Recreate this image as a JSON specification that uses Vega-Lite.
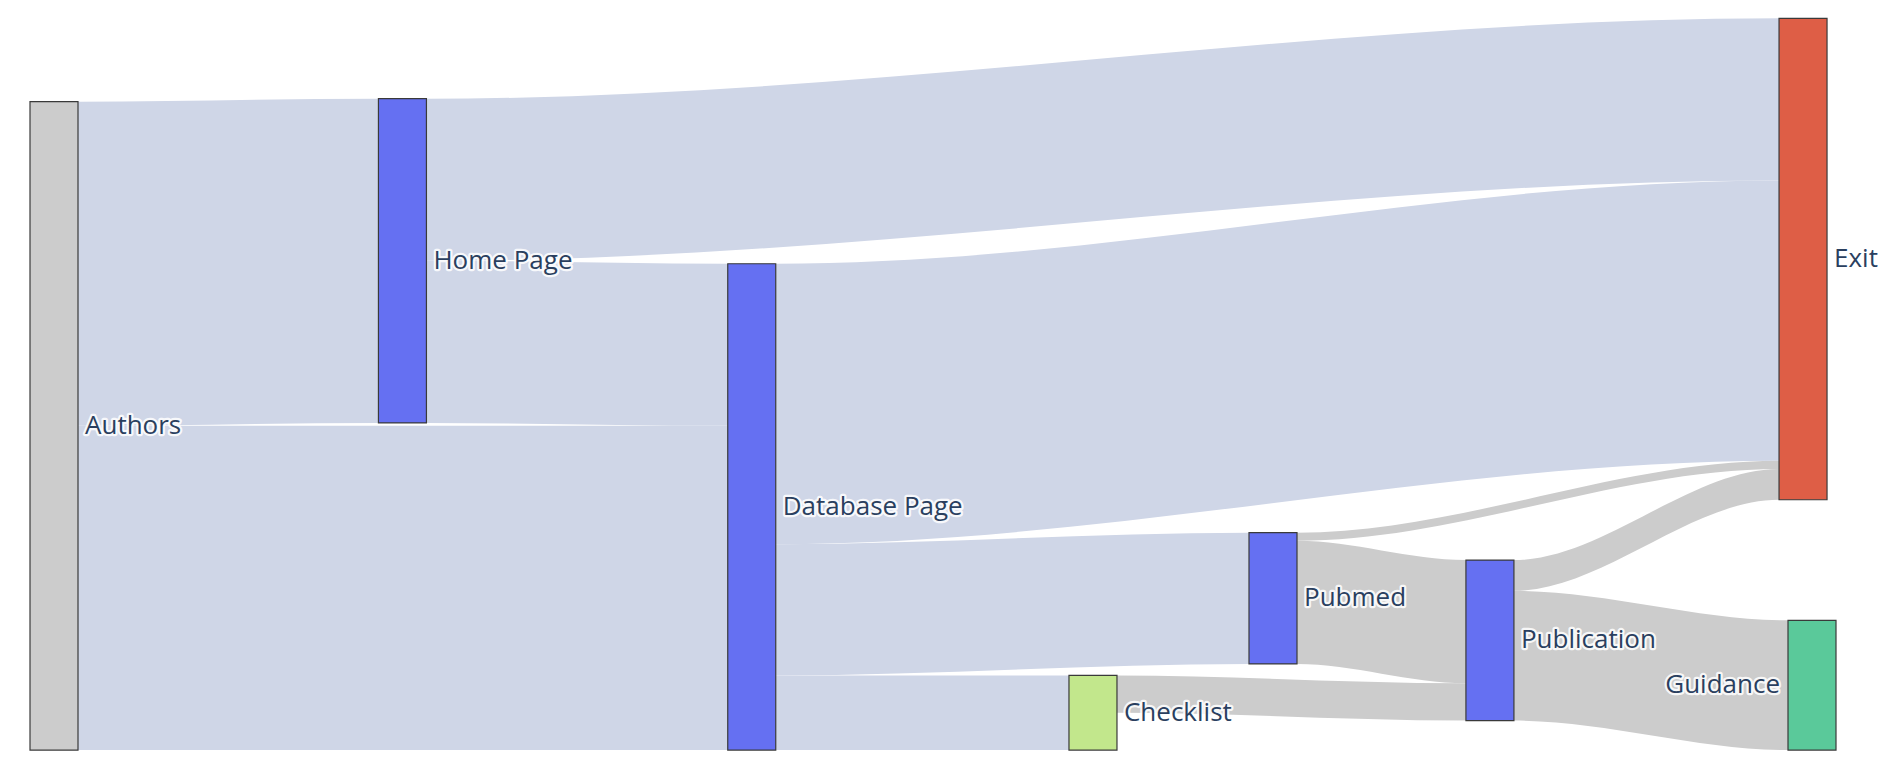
{
  "$schema": "https://vega.github.io/schema/vega-lite/v6.json",
  "width": 1894,
  "height": 772,
  "padding": 0,
  "autosize": {"type": "fit", "contains": "padding"},
  "background": "white",
  "config": {"view": {"stroke": null}},
  "datasets": {
    "nodes": [
      {"node": "Authors", "pos": 0, "top": 62.7, "value": 400},
      {"node": "Home Page", "pos": 0.1982, "top": 60.9, "value": 200},
      {"node": "Database Page", "pos": 0.3969, "top": 162.7, "value": 300},
      {"node": "Checklist", "pos": 0.591, "top": 416.7, "value": 46},
      {"node": "Pubmed", "pos": 0.6934, "top": 328.6, "value": 81},
      {"node": "Publication", "pos": 0.8168, "top": 345.5, "value": 99},
      {"node": "Exit", "pos": 0.9949, "top": 11.3, "value": 297},
      {"node": "Guidance", "pos": 1.0, "top": 382.7, "value": 80}
    ],
    "links": [
      {"source": "Authors", "target": "Home Page", "value": 200},
      {"source": "Authors", "target": "Database Page", "value": 200},
      {"source": "Home Page", "target": "Exit", "value": 100},
      {"source": "Home Page", "target": "Database Page", "value": 100},
      {"source": "Database Page", "target": "Exit", "value": 173},
      {"source": "Database Page", "target": "Pubmed", "value": 81},
      {"source": "Database Page", "target": "Checklist", "value": 46},
      {"source": "Pubmed", "target": "Exit", "value": 5},
      {"source": "Pubmed", "target": "Publication", "value": 76},
      {"source": "Checklist", "target": "Publication", "value": 23},
      {"source": "Publication", "target": "Exit", "value": 19},
      {"source": "Publication", "target": "Guidance", "value": 80}
    ]
  },
  "resolve": {"scale": {"color": "independent"}},
  "layer": [
    {
      "data": {"name": "links"},
      "transform": [
        {"lookup": "source", "from": {"data": {"name": "nodes"}, "key": "node", "fields": ["pos", "top"]}, "as": ["sx", "stop"]},
        {"lookup": "target", "from": {"data": {"name": "nodes"}, "key": "node", "fields": ["pos", "top"]}, "as": ["tx", "ttop"]},
        {"window": [{"op": "sum", "field": "value", "as": "outCum"}], "groupby": ["source"], "sort": [{"field": "ttop", "order": "ascending"}], "frame": [null, 0]},
        {"window": [{"op": "sum", "field": "value", "as": "inCum"}], "groupby": ["target"], "sort": [{"field": "stop", "order": "ascending"}], "frame": [null, 0]},
        {"calculate": "datum.stop + datum.outCum - datum.value", "as": "y0"},
        {"calculate": "datum.ttop + datum.inCum - datum.value", "as": "y1"},
        {"calculate": "[0, 1, 2, 3]", "as": "k"},
        {"flatten": ["k"]},
        {"calculate": "datum.k == 0 ? datum.sx : (datum.k == 1 ? datum.sx + 0.013652 : (datum.k == 2 ? datum.tx - 0.013652 : datum.tx))", "as": "px"},
        {"calculate": "datum.k < 2 ? datum.y0 : datum.y1", "as": "ya"},
        {"calculate": "datum.ya + datum.value", "as": "yb"}
      ],
      "mark": {"type": "area", "interpolate": "monotone", "opacity": 1},
      "encoding": {
        "x": {"field": "px", "type": "quantitative", "scale": {"domain": [-0.030717, 1.046644], "nice": false, "zero": false}, "axis": null},
        "y": {"field": "ya", "type": "quantitative", "stack": null, "scale": {"domain": [0, 476.25], "reverse": true, "nice": false, "zero": false}, "axis": null},
        "y2": {"field": "yb"},
        "detail": [{"field": "source"}, {"field": "target"}],
        "color": {
          "field": "source", "type": "nominal", "legend": null,
          "scale": {
            "domain": ["Authors", "Home Page", "Database Page", "Pubmed", "Checklist", "Publication"],
            "range": ["#cfd6e7", "#cfd6e7", "#cfd6e7", "#cccccc", "#cccccc", "#cccccc"]
          }
        }
      }
    },
    {
      "data": {"name": "nodes"},
      "transform": [
        {"calculate": "datum.pos - 0.013652", "as": "xa"},
        {"calculate": "datum.pos + 0.013652", "as": "xb"},
        {"calculate": "datum.top + datum.value", "as": "bottom"}
      ],
      "mark": {"type": "rect", "stroke": "#3a3a3a", "strokeWidth": 1.2},
      "encoding": {
        "x": {"field": "xa", "type": "quantitative", "scale": {"domain": [-0.030717, 1.046644], "nice": false, "zero": false}, "axis": null},
        "x2": {"field": "xb"},
        "y": {"field": "top", "type": "quantitative", "scale": {"domain": [0, 476.25], "reverse": true, "nice": false, "zero": false}, "axis": null},
        "y2": {"field": "bottom"},
        "color": {
          "field": "node", "type": "nominal", "legend": null,
          "scale": {
            "domain": ["Authors", "Home Page", "Database Page", "Checklist", "Pubmed", "Publication", "Exit", "Guidance"],
            "range": ["#cccccc", "#6570f2", "#6570f2", "#c2e78c", "#6570f2", "#6570f2", "#de5e46", "#5ac99a"]
          }
        }
      }
    },
    {
      "data": {"name": "nodes"},
      "transform": [
        {"filter": "datum.node !== 'Guidance'"},
        {"calculate": "datum.top + datum.value / 2", "as": "mid"}
      ],
      "mark": {"type": "text", "align": "left", "baseline": "middle", "dx": 31, "font": "Open Sans", "fontSize": 26, "fill": "white", "stroke": "white", "strokeWidth": 4.5, "strokeOpacity": 0.85, "strokeJoin": "round"},
      "encoding": {
        "x": {"field": "pos", "type": "quantitative", "scale": {"domain": [-0.030717, 1.046644], "nice": false, "zero": false}, "axis": null},
        "y": {"field": "mid", "type": "quantitative", "scale": {"domain": [0, 476.25], "reverse": true, "nice": false, "zero": false}, "axis": null},
        "text": {"field": "node"}
      }
    },
    {
      "data": {"name": "nodes"},
      "transform": [
        {"filter": "datum.node !== 'Guidance'"},
        {"calculate": "datum.top + datum.value / 2", "as": "mid"}
      ],
      "mark": {"type": "text", "align": "left", "baseline": "middle", "dx": 31, "font": "Open Sans", "fontSize": 26, "fill": "#2a3f5f"},
      "encoding": {
        "x": {"field": "pos", "type": "quantitative", "scale": {"domain": [-0.030717, 1.046644], "nice": false, "zero": false}, "axis": null},
        "y": {"field": "mid", "type": "quantitative", "scale": {"domain": [0, 476.25], "reverse": true, "nice": false, "zero": false}, "axis": null},
        "text": {"field": "node"}
      }
    },
    {
      "data": {"name": "nodes"},
      "transform": [
        {"filter": "datum.node === 'Guidance'"},
        {"calculate": "datum.top + datum.value / 2", "as": "mid"}
      ],
      "mark": {"type": "text", "align": "right", "baseline": "middle", "dx": -32, "font": "Open Sans", "fontSize": 26, "fill": "white", "stroke": "white", "strokeWidth": 4.5, "strokeOpacity": 0.85, "strokeJoin": "round"},
      "encoding": {
        "x": {"field": "pos", "type": "quantitative", "scale": {"domain": [-0.030717, 1.046644], "nice": false, "zero": false}, "axis": null},
        "y": {"field": "mid", "type": "quantitative", "scale": {"domain": [0, 476.25], "reverse": true, "nice": false, "zero": false}, "axis": null},
        "text": {"field": "node"}
      }
    },
    {
      "data": {"name": "nodes"},
      "transform": [
        {"filter": "datum.node === 'Guidance'"},
        {"calculate": "datum.top + datum.value / 2", "as": "mid"}
      ],
      "mark": {"type": "text", "align": "right", "baseline": "middle", "dx": -32, "font": "Open Sans", "fontSize": 26, "fill": "#2a3f5f"},
      "encoding": {
        "x": {"field": "pos", "type": "quantitative", "scale": {"domain": [-0.030717, 1.046644], "nice": false, "zero": false}, "axis": null},
        "y": {"field": "mid", "type": "quantitative", "scale": {"domain": [0, 476.25], "reverse": true, "nice": false, "zero": false}, "axis": null},
        "text": {"field": "node"}
      }
    }
  ]
}
